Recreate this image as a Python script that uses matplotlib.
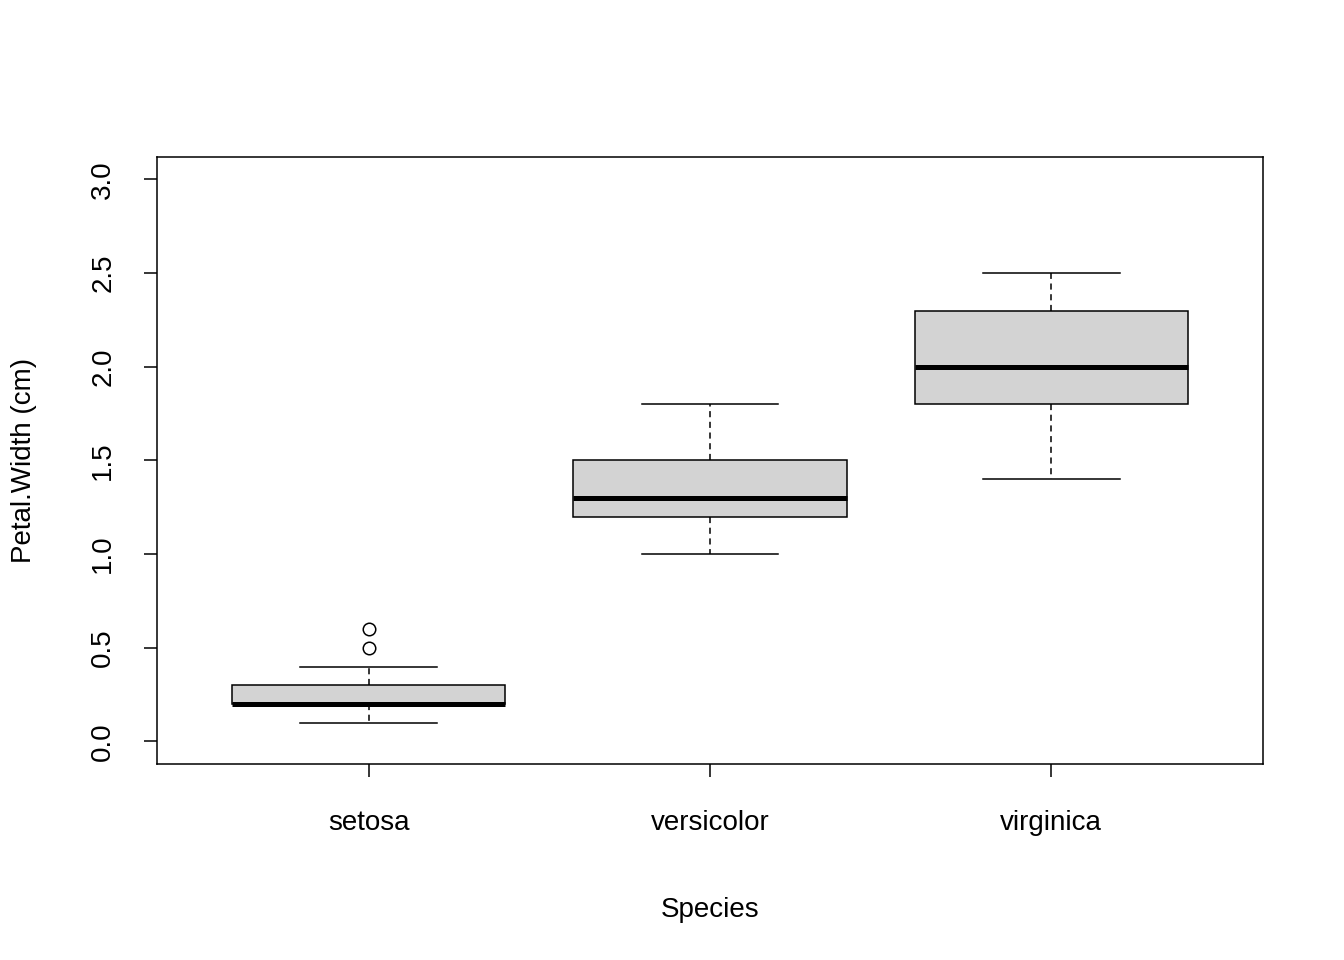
import matplotlib
matplotlib.use("Agg")
import matplotlib.pyplot as plt

# Datos (estadisticos del boxplot)
especies = ["setosa", "versicolor", "virginica"]
whislo = [0.1, 1.0, 1.4]
q1 = [0.2, 1.2, 1.8]
med = [0.2, 1.3, 2.0]
q3 = [0.3, 1.5, 2.3]
whishi = [0.4, 1.8, 2.5]
fliers = [[0.5, 0.6], [], []]

plt.rcParams['font.family'] = ['Liberation Sans', 'DejaVu Sans']

stats = []
for i in range(len(especies)):
    stats.append(dict(label=especies[i], whislo=whislo[i], q1=q1[i], med=med[i],
                      q3=q3[i], whishi=whishi[i], fliers=fliers[i]))

fig = plt.figure(figsize=(13.44, 9.6), dpi=100)
ax = fig.add_axes([0.1168, 0.2042, 0.8229, 0.6323])
ax.bxp(stats, positions=[1, 2, 3], widths=0.8, patch_artist=True,
       boxprops=dict(facecolor='#d3d3d3', edgecolor='black', linewidth=1.1),
       medianprops=dict(color='black', linewidth=3.6, solid_capstyle='butt'),
       whiskerprops=dict(color='black', linewidth=1.1, linestyle=(0, (4, 3))),
       capprops=dict(color='black', linewidth=1.1), capwidths=0.4,
       flierprops=dict(marker='o', markerfacecolor='none', markeredgecolor='black',
                       markersize=9, markeredgewidth=1.1))

ax.set_xlim(0.38, 3.62)
ax.set_ylim(-0.12, 3.12)
ax.set_yticks([0, 0.5, 1, 1.5, 2, 2.5, 3])
ax.set_yticklabels(["0.0", "0.5", "1.0", "1.5", "2.0", "2.5", "3.0"], rotation=90, va='center')
ax.set_xticks([1, 2, 3])
ax.set_xticklabels(especies)
ax.tick_params(labelsize=20, length=9.4, width=1.1)
ax.tick_params(axis='x', pad=24)
ax.tick_params(axis='y', pad=20)
for s in ax.spines.values():
    s.set_linewidth(1.1)
ax.set_xlabel("Species", fontsize=20, labelpad=44)
ax.set_ylabel("Petal.Width (cm)", fontsize=20, labelpad=38)

fig.savefig("out.png", dpi=100)
